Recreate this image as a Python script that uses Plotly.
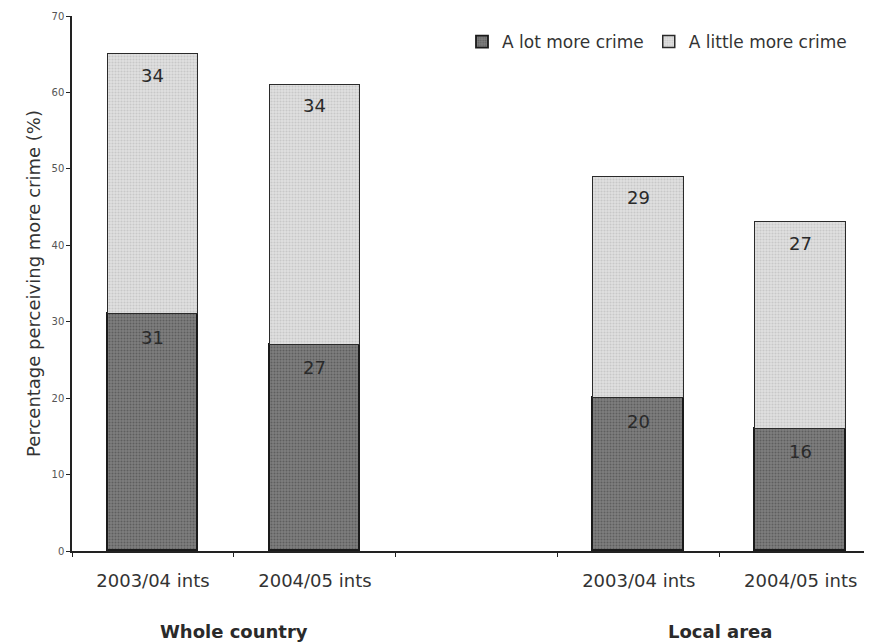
import plotly.graph_objects as go

categories = ["2003/04 ints", "2004/05 ints", "2003/04 ints", "2004/05 ints"]
groups = ["Whole country", "Local area"]
a_lot_more = [31, 27, 20, 16]
a_little_more = [34, 34, 29, 27]
x_pos = [0, 1, 3, 4]
group_pos = [0.5, 3.5]
y_ticks = [0, 10, 20, 30, 40, 50, 60, 70]

FONT = "DejaVu Sans"

fig = go.Figure()
fig.add_trace(go.Bar(
    x=x_pos, y=a_lot_more, name="A lot more crime", width=0.56,
    marker=dict(color="#6c6c6c", line=dict(color="#1a1a1a", width=1.8),
                pattern=dict(shape=".", fgcolor="#3c3c3c", bgcolor="#808080", size=3, solidity=0.4)),
))
fig.add_trace(go.Bar(
    x=x_pos, y=a_little_more, name="A little more crime", width=0.56,
    marker=dict(color="#d0d0d0", line=dict(color="#2a2a2a", width=1.5),
                pattern=dict(shape=".", fgcolor="#b0b0b0", bgcolor="#e0e0e0", size=3, solidity=0.4)),
))

# value labels just below the top edge of each segment
for xp, lo, hi in zip(x_pos, a_lot_more, a_little_more):
    fig.add_annotation(x=xp, y=lo, text=str(lo), showarrow=False, yshift=-23, yanchor="middle",
                       font=dict(size=18, color="#2a2a2a", family=FONT))
    fig.add_annotation(x=xp, y=lo + hi, text=str(hi), showarrow=False, yshift=-21, yanchor="middle",
                       font=dict(size=18, color="#2a2a2a", family=FONT))

for g, gp in zip(groups, group_pos):
    fig.add_annotation(x=gp, xref="x", y=-0.151, yref="paper", text=g, showarrow=False,
                       yanchor="middle", font=dict(size=18, color="#2a2a2a", family=FONT, weight="bold"))

fig.update_layout(
    barmode="stack",
    width=864, height=635,
    margin=dict(l=64, r=0, t=8, b=92, autoexpand=False),
    plot_bgcolor="white", paper_bgcolor="white",
    font=dict(family=FONT, color="#333333"),
    legend=dict(orientation="h", x=0.975, xanchor="right", y=0.985, yanchor="top",
                font=dict(size=17, color="#333333", family=FONT), bgcolor="rgba(0,0,0,0)",
                itemwidth=30, traceorder="normal"),
    showlegend=True,
    bargap=0,
)
fig.update_xaxes(
    range=[-0.5, 4.44], tickvals=x_pos, ticktext=categories,
    showline=True, linecolor="#222222", linewidth=1.5,
    ticks="", tickfont=dict(size=18, color="#333333", family=FONT),
    minor=dict(tick0=-0.5, dtick=1, ticks="outside", ticklen=4, tickcolor="#222222"),
    showgrid=False, zeroline=False, ticklabelstandoff=13, automargin=False,
)
fig.update_yaxes(
    range=[0, 70], tickvals=y_ticks,
    showline=True, linecolor="#222222", linewidth=1.5,
    ticks="outside", ticklen=4, tickcolor="#222222",
    tickfont=dict(size=10, color="#555555", family=FONT),
    showgrid=False, zeroline=False, automargin=False,
    title=dict(text="Percentage perceiving more crime (%)", font=dict(size=18, color="#333333", family=FONT), standoff=6),
)

fig.write_html("out.html")
